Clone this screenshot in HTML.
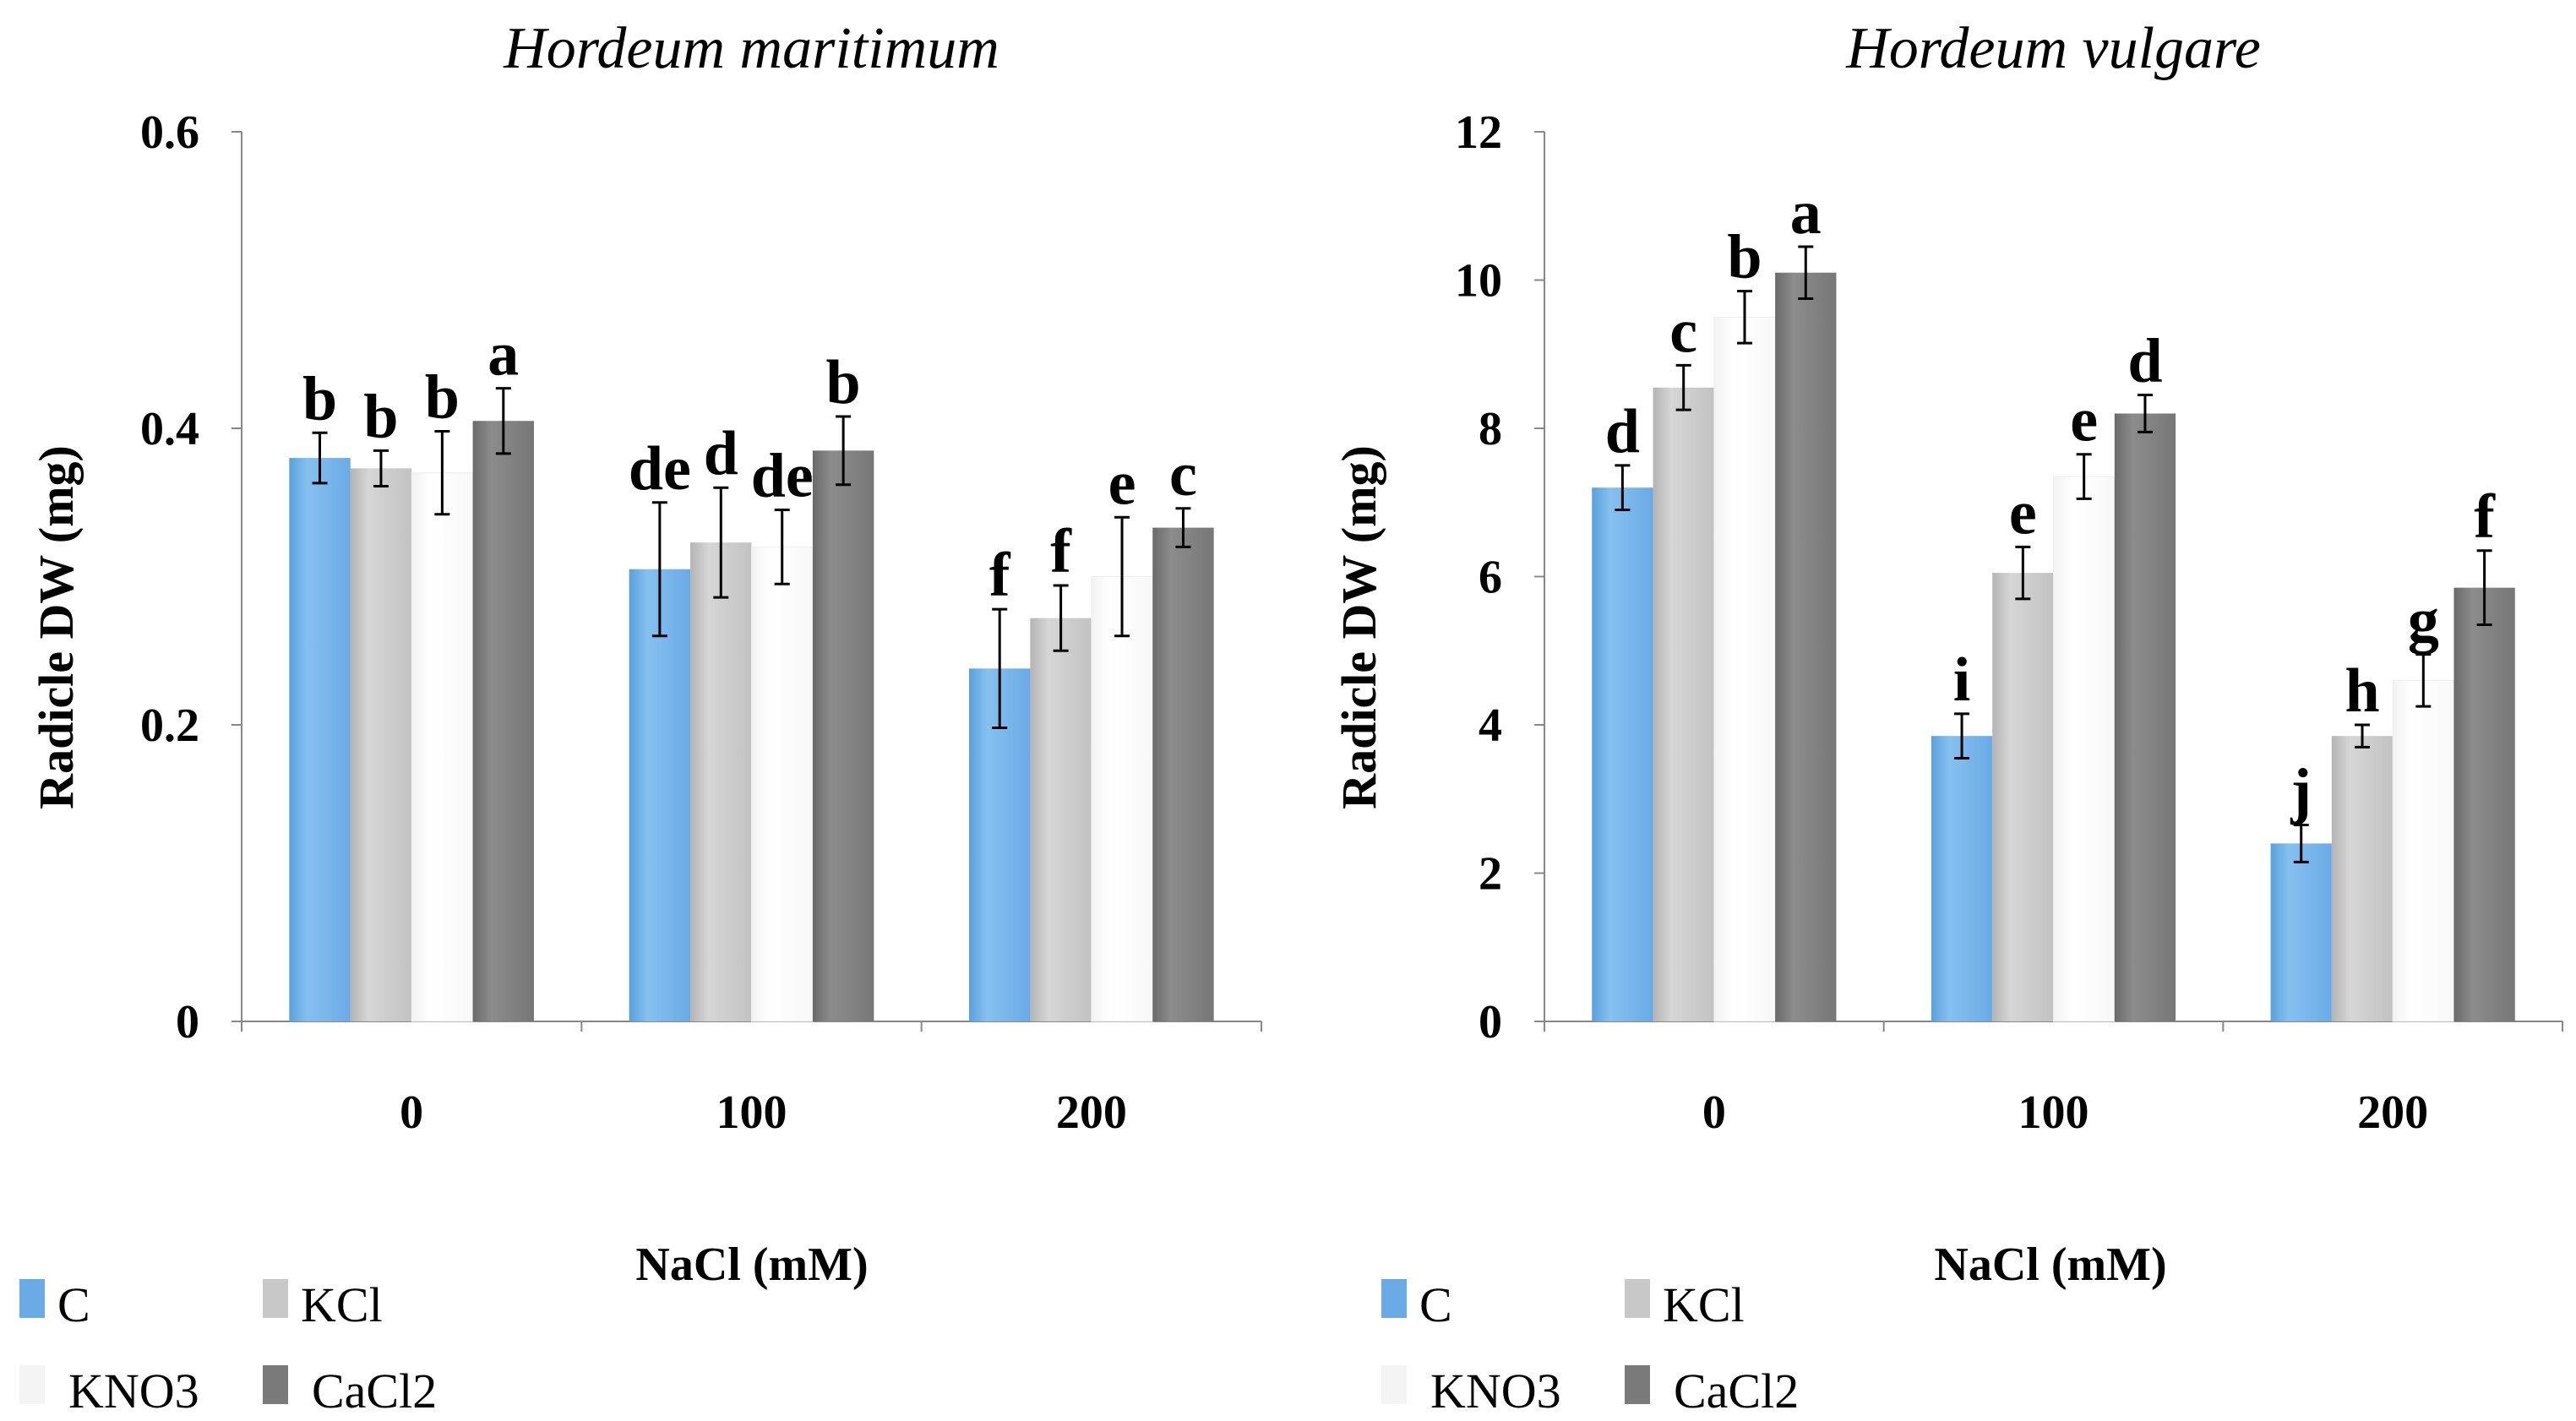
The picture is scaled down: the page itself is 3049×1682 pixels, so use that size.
<!DOCTYPE html>
<html><head><meta charset="utf-8"><style>
html,body{margin:0;padding:0;background:#fff;}
svg{display:block;}
text{font-family:"Liberation Serif",serif;}
</style></head><body>
<svg id="chart" width="3049" height="1682" viewBox="0 0 3049 1682" xmlns="http://www.w3.org/2000/svg">
<defs>
<linearGradient id="gC" x1="0" x2="1"><stop offset="0" stop-color="#5aa0dc"/><stop offset="0.3" stop-color="#86c0f0"/><stop offset="1" stop-color="#6aaae6"/></linearGradient>
<linearGradient id="gK" x1="0" x2="1"><stop offset="0" stop-color="#b4b4b4"/><stop offset="0.3" stop-color="#d6d6d6"/><stop offset="1" stop-color="#c2c2c2"/></linearGradient>
<linearGradient id="gN" x1="0" x2="1"><stop offset="0" stop-color="#f2f2f2"/><stop offset="0.3" stop-color="#ffffff"/><stop offset="1" stop-color="#f8f8f8"/></linearGradient>
<linearGradient id="gCa" x1="0" x2="1"><stop offset="0" stop-color="#6a6a6a"/><stop offset="0.3" stop-color="#8c8c8c"/><stop offset="1" stop-color="#777"/></linearGradient>
</defs>
<g id="left"></g>
<g id="right"></g>
</svg>
<script>
const categories = ["0","100","200"];
const seriesNames = ["C","KCl","KNO3","CaCl2"];
const fills = ["url(#gC)","url(#gK)","url(#gN)","url(#gCa)"];
const legendFills = ["#6aaae6","#c8c8c8","#f4f4f4","#7a7a7a"];

const leftValues = [[0.38,0.305,0.238],[0.373,0.323,0.272],[0.37,0.32,0.30],[0.405,0.385,0.333]];
const leftErrors = [[0.017,0.045,0.04],[0.012,0.037,0.022],[0.028,0.025,0.04],[0.022,0.023,0.013]];
const leftLetters = [["b","de","f"],["b","d","f"],["b","de","e"],["a","b","c"]];
const leftTicks = [0,0.2,0.4,0.6];
const leftTickLabels = ["0","0.2","0.4","0.6"];

const rightValues = [[7.2,3.85,2.4],[8.55,6.05,3.85],[9.5,7.35,4.6],[10.1,8.2,5.85]];
const rightErrors = [[0.3,0.3,0.25],[0.3,0.35,0.15],[0.35,0.3,0.35],[0.35,0.25,0.5]];
const rightLetters = [["d","i","j"],["c","e","h"],["b","e","g"],["a","d","f"]];
const rightTicks = [0,2,4,6,8,10,12];
const rightTickLabels = ["0","2","4","6","8","10","12"];

const NS="http://www.w3.org/2000/svg";
function mk(parent,tag,attrs,txt){const e=document.createElementNS(NS,tag);for(const k in attrs)e.setAttribute(k,attrs[k]);if(txt!==undefined)e.textContent=txt;parent.appendChild(e);return e;}

function panel(gid,cfg){
  const g=document.getElementById(gid);
  const x0=cfg.x0,x1=cfg.x1,yTop=156,yBot=1209;
  const y=v=>yBot-(v-cfg.min)/(cfg.max-cfg.min)*(yBot-yTop);
  const gw=(x1-x0)/categories.length, bw=gw*0.18;
  const gx=i=>x0+gw*i+gw/2;
  let t=mk(g,'text',{x:(x0+x1)/2,y:80,'text-anchor':'middle','font-size':70,'font-style':'italic'},cfg.title);
  
  
  let ax=mk(g,'line',{x1:x0,y1:yTop,x2:x0,y2:yBot,stroke:'#888','stroke-width':2});
  
  
  let bx=mk(g,'line',{x1:x0,y1:yBot,x2:x1,y2:yBot,stroke:'#888','stroke-width':2});
  
  
  cfg.ticks.forEach((v,i)=>{
    mk(g,'line',{x1:x0-12,y1:y(v),x2:x0,y2:y(v),stroke:'#888','stroke-width':2});
    let tl=mk(g,'text',{x:x0-50,y:y(v)+19,'text-anchor':'end','font-size':56,'font-weight':'bold'},cfg.tickLabels[i]);
    
    
  });
  for(let i=0;i<=categories.length;i++) mk(g,'line',{x1:x0+gw*i,y1:yBot,x2:x0+gw*i,y2:yBot+12,stroke:'#888','stroke-width':2});
  categories.forEach((c,i)=>{
    let cl=mk(g,'text',{x:gx(i),y:1335,'text-anchor':'middle','font-size':56,'font-weight':'bold'},c);
    
    
  });
  seriesNames.forEach((s,si)=>{
    categories.forEach((c,ci)=>{
      const v=cfg.values[si][ci],e=cfg.errors[si][ci];
      const bxp=gx(ci)-2*bw+si*bw;
      let r=mk(g,'rect',{x:bxp,y:y(v),width:bw,height:yBot-y(v),fill:fills[si],stroke:si==2?'#eee':'none'});
      
      
      const cx=bxp+bw/2;
      mk(g,'line',{x1:cx,y1:y(v+e),x2:cx,y2:y(v-e),stroke:'#000','stroke-width':3});
      mk(g,'line',{x1:cx-9,y1:y(v+e),x2:cx+9,y2:y(v+e),stroke:'#000','stroke-width':3});
      mk(g,'line',{x1:cx-9,y1:y(v-e),x2:cx+9,y2:y(v-e),stroke:'#000','stroke-width':3});
      let lt=mk(g,'text',{x:cx,y:y(v+e)-16,'text-anchor':'middle','font-size':74,'font-weight':'bold'},cfg.letters[si][ci]);
      
      
    });
  });
  let yl=mk(g,'text',{transform:`translate(${x0-200},${(yTop+yBot)/2+60}) rotate(-90)`,'text-anchor':'middle','font-size':58,'font-weight':'bold'},'Radicle DW (mg)');
  
  
  let xl=mk(g,'text',{x:cfg.xtx,y:1515,'text-anchor':'middle','font-size':56,'font-weight':'bold'},'NaCl (mM)');
  
  
  const lx=cfg.lx;
  const pos=[[lx,1560],[lx+288,1560],[lx,1662],[lx+288,1662]];
  seriesNames.forEach((s,si)=>{
    const [px,py]=pos[si];
    let le=mk(g,'g',{});
    
    
    mk(le,'rect',{x:px,y:py-46,width:30,height:46,fill:legendFills[si]});
    mk(le,'text',{x:px+(si==2||si==3?58:45),y:py+4,'font-size':58},s);
  });
}
panel('left',{x0:286,x1:1493,min:0,max:0.6,ticks:leftTicks,tickLabels:leftTickLabels,values:leftValues,errors:leftErrors,letters:leftLetters,title:'Hordeum maritimum',xtx:890,lx:23});
panel('right',{x0:1828,x1:3033,min:0,max:12,ticks:rightTicks,tickLabels:rightTickLabels,values:rightValues,errors:rightErrors,letters:rightLetters,title:'Hordeum vulgare',xtx:2427,lx:1635});
</script>
</body></html>
